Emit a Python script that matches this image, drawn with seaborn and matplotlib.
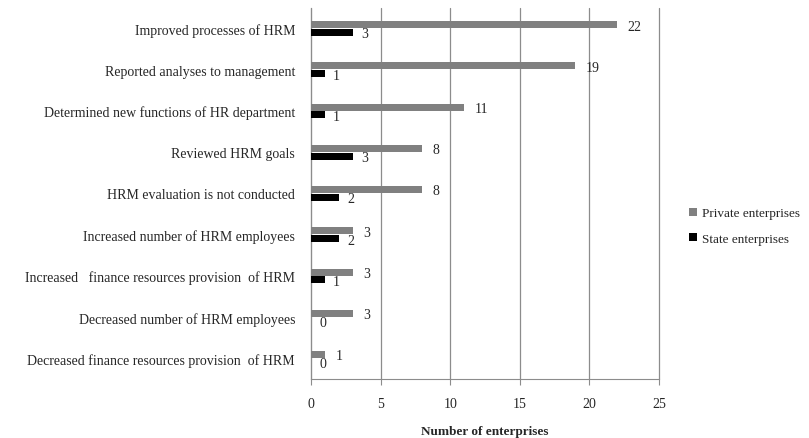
import matplotlib
matplotlib.use("Agg")
import matplotlib.pyplot as plt
from matplotlib.patches import Patch
import seaborn as sns
import pandas as pd

categories = [
    "Improved processes of HRM",
    "Reported analyses to management",
    "Determined new functions of HR department",
    "Reviewed HRM goals",
    "HRM evaluation is not conducted",
    "Increased number of HRM employees",
    "Increased   finance resources provision  of HRM",
    "Decreased number of HRM employees",
    "Decreased finance resources provision  of HRM",
]
private_values = [22, 19, 11, 8, 8, 3, 3, 3, 1]
state_values = [3, 1, 1, 3, 2, 2, 1, 0, 0]
series_names = ["Private enterprises", "State enterprises"]
x_ticks = [0, 5, 10, 15, 20, 25]

df = pd.DataFrame({
    "category": categories * 2,
    "value": private_values + state_values,
    "series": [series_names[0]] * len(categories) + [series_names[1]] * len(categories),
})

sns.set_style("white")
plt.rcParams["font.family"] = ["Liberation Serif", "DejaVu Serif"]

fig = plt.figure(figsize=(8.09, 4.39), dpi=100)
ax = fig.add_axes([0.3844, 0.1344, 0.4302, 0.8451])

colors = {"Private enterprises": "#808080", "State enterprises": "#000000"}
sns.barplot(data=df, y="category", x="value", hue="series", orient="h",
            palette=colors, width=0.38, gap=0.1, dodge=True, legend=False,
            edgecolor="none", saturation=1, ax=ax, zorder=3)

ax.set_xlim(0, 25)
ax.set_xticks(x_ticks)
ax.set_ylim(len(categories) - 0.5, -0.5)
ax.grid(axis="x", color="#8c8c8c", linewidth=0.9, zorder=0)
for gl in ax.get_xgridlines():
    gl.set_clip_on(False)
ax.set_axisbelow(True)
for side in ["top", "right"]:
    ax.spines[side].set_visible(False)
ax.spines["left"].set_color("#8c8c8c")
ax.spines["bottom"].set_color("#8c8c8c")
ax.tick_params(axis="x", bottom=True, length=4, color="#8c8c8c", labelsize=10, pad=9)
ax.tick_params(axis="y", left=False, labelsize=10, pad=8)
ax.set_ylabel("")
ax.set_xlabel("Number of enterprises", fontsize=9.5, fontweight="bold", labelpad=11)

# value labels beside each bar
for container, vals, dx in zip(ax.containers, [private_values, state_values], [7.5, 6]):
    for bar, v in zip(container, vals):
        y = bar.get_y() + bar.get_height() / 2
        ax.annotate(str(v), xy=(v, y), xytext=(dx, -1), textcoords="offset points",
                    ha="left", va="center", fontsize=10, zorder=5)

handles = [Patch(facecolor=colors[s], edgecolor="none", label=s) for s in series_names]
fig.legend(handles=handles, loc="center left", bbox_to_anchor=(0.837, 0.483),
           frameon=False, fontsize=9.5, handlelength=0.6, handleheight=0.6,
           handletextpad=0.35, labelspacing=1.0)

fig.savefig("out.png", dpi=100)
